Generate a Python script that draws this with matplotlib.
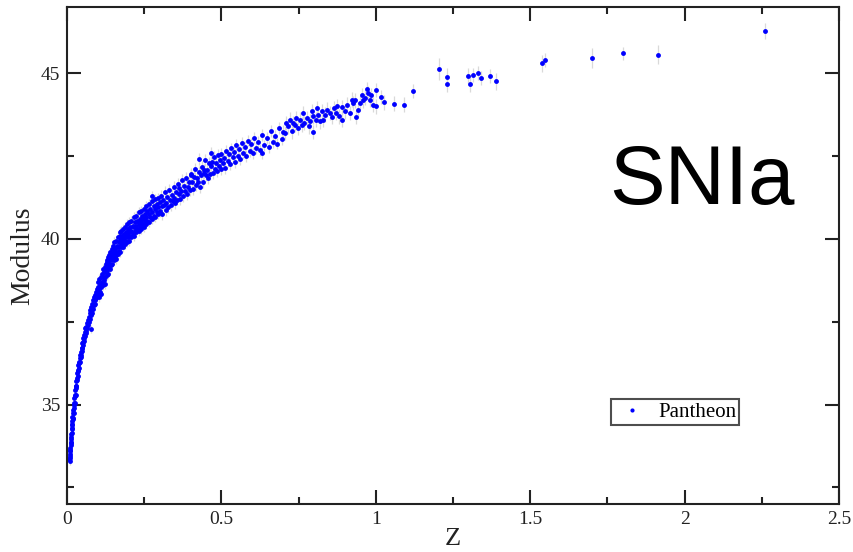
import matplotlib
matplotlib.use("Agg")
import matplotlib.pyplot as plt
from matplotlib.ticker import MultipleLocator
from matplotlib.lines import Line2D

# Pantheon SN Ia distance moduli, grouped by redshift range
z_near = [0.0075, 0.0080, 0.0085, 0.0090, 0.0095, 0.0100, 0.0105, 0.0110, 0.0115, 0.0120,
          0.0125, 0.0130, 0.0135, 0.0140, 0.0145, 0.0150, 0.0155, 0.0160, 0.0165, 0.0170,
          0.0175, 0.0180, 0.0190, 0.0195, 0.0200, 0.0210, 0.0215, 0.0220, 0.0230, 0.0240,
          0.0245, 0.0250, 0.0260, 0.0270, 0.0275, 0.0280, 0.0290, 0.0300, 0.0305, 0.0310,
          0.0320, 0.0330, 0.0340, 0.0350, 0.0360, 0.0370, 0.0380, 0.0390, 0.0400, 0.0410,
          0.0420, 0.0430, 0.0440, 0.0450, 0.0460, 0.0470, 0.0480, 0.0490, 0.0500, 0.0510,
          0.0520, 0.0530, 0.0540, 0.0550, 0.0560, 0.0570, 0.0580, 0.0590, 0.0600, 0.0615,
          0.0630, 0.0645, 0.0660, 0.0675, 0.0690, 0.0700, 0.0715, 0.0730, 0.0740, 0.0745,
          0.0760, 0.0770, 0.0775, 0.0790, 0.0800, 0.0815, 0.0830, 0.0845, 0.0860, 0.0875,
          0.0890, 0.0905, 0.0920, 0.0935, 0.0950, 0.0965, 0.0980, 0.0995]
mu_near = [33.35, 33.30, 33.45, 33.40, 33.60, 33.50, 33.70, 33.62, 33.85, 33.78,
           33.95, 33.88, 34.10, 34.02, 34.25, 34.15, 34.38, 34.30, 34.50, 34.42,
           34.62, 34.55, 34.75, 34.60, 34.85, 34.90, 34.75, 35.05, 35.00, 35.20,
           35.05, 35.30, 35.25, 35.45, 35.30, 35.55, 35.50, 35.70, 35.55, 35.80,
           35.75, 35.95, 35.85, 36.05, 36.00, 36.20, 36.10, 36.30, 36.25, 36.40,
           36.30, 36.50, 36.45, 36.60, 36.50, 36.70, 36.62, 36.85, 36.72, 36.90,
           36.80, 37.00, 36.92, 37.10, 37.00, 37.20, 37.08, 37.30, 37.15, 37.35,
           37.22, 37.45, 37.30, 37.55, 37.40, 37.65, 37.50, 37.75, 37.86, 37.58,
           37.85, 37.28, 37.70, 37.95, 37.75, 38.05, 37.90, 38.15, 38.00, 38.25,
           38.05, 38.30, 38.15, 38.40, 38.22, 38.50, 38.30, 38.55]

z_mid = [0.101, 0.101, 0.104, 0.104, 0.104, 0.107, 0.107, 0.110, 0.110, 0.110,
         0.113, 0.113, 0.116, 0.116, 0.116, 0.119, 0.119, 0.122, 0.122, 0.122,
         0.125, 0.125, 0.128, 0.128, 0.128, 0.131, 0.131, 0.134, 0.134, 0.134,
         0.137, 0.137, 0.140, 0.140, 0.140, 0.143, 0.143, 0.146, 0.146, 0.146,
         0.149, 0.149, 0.152, 0.152, 0.152, 0.155, 0.155, 0.158, 0.158, 0.158,
         0.161, 0.161, 0.164, 0.164, 0.164, 0.167, 0.167, 0.170, 0.170, 0.170,
         0.173, 0.173, 0.176, 0.176, 0.176, 0.179, 0.179, 0.182, 0.182, 0.182,
         0.185, 0.185, 0.188, 0.188, 0.188, 0.191, 0.191, 0.194, 0.194, 0.194,
         0.197, 0.197, 0.200, 0.200, 0.200, 0.204, 0.204, 0.208, 0.208, 0.208,
         0.212, 0.212, 0.216, 0.216, 0.216, 0.220, 0.220, 0.224, 0.224, 0.224,
         0.228, 0.228, 0.232, 0.232, 0.232, 0.236, 0.236, 0.240, 0.240, 0.240,
         0.244, 0.244, 0.248, 0.248, 0.248, 0.252, 0.252, 0.256, 0.256, 0.256,
         0.260, 0.260, 0.265, 0.265, 0.265, 0.270, 0.270, 0.274, 0.275, 0.275,
         0.275, 0.280, 0.280, 0.285, 0.285, 0.285, 0.290, 0.290, 0.295, 0.295,
         0.295]
mu_mid = [38.70, 38.35, 38.50, 38.25, 38.80, 38.62, 38.40, 38.85, 38.55, 38.35,
          38.70, 38.95, 38.60, 38.85, 39.10, 38.75, 39.00, 39.15, 38.85, 38.65,
          39.00, 39.25, 38.90, 39.15, 39.35, 39.05, 39.30, 39.45, 39.15, 38.95,
          39.25, 39.50, 39.10, 39.35, 39.60, 39.45, 39.20, 39.70, 39.40, 39.25,
          39.55, 39.80, 39.35, 39.60, 39.90, 39.70, 39.45, 39.95, 39.60, 39.40,
          39.80, 39.55, 40.05, 39.75, 39.55, 39.90, 39.65, 40.10, 39.80, 39.60,
          39.95, 40.20, 39.75, 40.00, 40.25, 40.10, 39.85, 40.30, 40.00, 39.75,
          40.15, 39.90, 40.35, 40.05, 39.85, 40.20, 39.95, 40.45, 40.15, 39.90,
          40.30, 40.05, 40.50, 40.20, 39.95, 40.35, 40.10, 40.55, 40.25, 40.05,
          40.40, 40.15, 40.65, 40.35, 40.10, 40.50, 40.25, 40.70, 40.40, 40.20,
          40.55, 40.30, 40.80, 40.45, 40.25, 40.60, 40.35, 40.85, 40.55, 40.30,
          40.70, 40.45, 40.90, 40.60, 40.35, 40.75, 40.50, 41.00, 40.65, 40.45,
          40.85, 40.55, 41.05, 40.75, 40.50, 40.90, 40.65, 41.30, 41.15, 40.80,
          40.60, 41.00, 40.70, 41.20, 40.90, 40.65, 41.05, 40.80, 41.25, 40.95,
          40.75]

z_inter = [0.301, 0.302, 0.305, 0.307, 0.309, 0.312, 0.314, 0.317, 0.319, 0.322,
           0.325, 0.327, 0.331, 0.333, 0.336, 0.339, 0.342, 0.345, 0.347, 0.350,
           0.353, 0.356, 0.359, 0.361, 0.364, 0.367, 0.370, 0.373, 0.376, 0.379,
           0.382, 0.385, 0.388, 0.391, 0.394, 0.397, 0.400, 0.403, 0.406, 0.409,
           0.412, 0.415, 0.418, 0.421, 0.424, 0.427, 0.428, 0.430, 0.433, 0.436,
           0.439, 0.442, 0.445, 0.448, 0.451, 0.454, 0.457, 0.460, 0.463, 0.466,
           0.467, 0.470, 0.473, 0.476, 0.479, 0.482, 0.485, 0.488, 0.491, 0.494,
           0.497, 0.500, 0.504, 0.508, 0.512, 0.516, 0.520, 0.524, 0.528, 0.532,
           0.536, 0.540, 0.544, 0.548, 0.552, 0.556, 0.561, 0.566, 0.571, 0.576,
           0.581, 0.586, 0.591, 0.596, 0.601, 0.607, 0.613, 0.619, 0.625, 0.630,
           0.632, 0.639, 0.646, 0.653, 0.660, 0.667, 0.674, 0.681, 0.688, 0.695]
mu_inter = [41.12, 40.84, 41.30, 40.98, 40.76, 41.18, 41.02, 41.42, 40.88, 41.08,
            41.27, 40.95, 41.48, 41.16, 41.02, 41.33, 41.13, 41.58, 41.24, 41.08,
            41.42, 41.19, 41.66, 41.36, 41.55, 41.21, 41.44, 41.78, 41.30, 41.60,
            41.44, 41.83, 41.36, 41.56, 41.73, 41.48, 41.92, 41.97, 41.72, 41.50,
            41.86, 42.10, 41.63, 41.83, 41.73, 42.03, 42.42, 41.57, 41.93, 42.16,
            41.72, 42.07, 41.98, 42.39, 41.92, 42.09, 41.85, 42.30, 41.95, 42.60,
            42.20, 42.33, 41.98, 42.46, 42.12, 42.30, 42.05, 42.52, 42.20, 42.38,
            42.10, 42.57, 42.28, 42.44, 42.15, 42.65, 42.36, 42.55, 42.26, 42.73,
            42.47, 42.62, 42.33, 42.84, 42.50, 42.70, 42.42, 42.90, 42.58, 42.78,
            42.49, 42.97, 42.66, 42.86, 42.60, 43.05, 42.74, 42.94, 42.68, 42.58,
            43.13, 42.82, 43.04, 42.78, 43.25, 42.92, 43.12, 42.88, 43.35, 43.02]

z_far = [0.700, 0.705, 0.710, 0.716, 0.722, 0.727, 0.733, 0.738, 0.743, 0.748,
         0.754, 0.760, 0.765, 0.768, 0.776, 0.782, 0.786, 0.792, 0.797, 0.797,
         0.805, 0.808, 0.813, 0.819, 0.825, 0.830, 0.835, 0.842, 0.851, 0.857,
         0.863, 0.871, 0.873, 0.880, 0.889, 0.892, 0.900, 0.908, 0.916, 0.922,
         0.927, 0.932, 0.937, 0.943, 0.948, 0.955, 0.959, 0.965, 0.970, 0.975,
         0.981, 0.983, 0.991, 1.000, 1.002, 1.017, 1.028, 1.059, 1.092, 1.120]
mu_far = [43.22, 43.20, 43.50, 43.40, 43.60, 43.25, 43.50, 43.45, 43.65, 43.35,
          43.60, 43.45, 43.80, 43.50, 43.65, 43.40, 43.55, 43.85, 43.70, 43.23,
          43.60, 43.95, 43.75, 43.55, 43.85, 43.60, 43.75, 43.90, 43.80, 43.68,
          43.95, 43.80, 44.00, 43.70, 43.60, 43.98, 43.85, 44.05, 43.80, 44.20,
          44.10, 44.18, 43.68, 43.90, 44.10, 44.35, 44.18, 44.25, 44.53, 44.40,
          44.20, 44.33, 44.05, 44.00, 44.49, 44.29, 44.12, 44.08, 44.05, 44.46]

z_hst = [1.206, 1.230, 1.230, 1.299, 1.304, 1.315, 1.330, 1.340, 1.369, 1.389,
         1.538, 1.549, 1.700, 1.800, 1.914, 2.259]
mu_hst = [45.14, 44.90, 44.69, 44.93, 44.67, 44.95, 45.01, 44.86, 44.92, 44.76,
          45.30, 45.40, 45.47, 45.60, 45.56, 46.28]
err_hst = [0.33, 0.25, 0.25, 0.22, 0.25, 0.22, 0.22, 0.22, 0.20, 0.25,
           0.25, 0.22, 0.30, 0.20, 0.28, 0.25]

# typical uncertainty of the lower-redshift groups
err_near, err_mid, err_inter, err_far = 0.12, 0.15, 0.18, 0.22

fig = plt.figure(figsize=(8.54, 5.52), dpi=100)
ax = fig.add_axes([0.0785, 0.087, 0.904, 0.9003])

groups = [(z_near, mu_near, err_near), (z_mid, mu_mid, err_mid),
          (z_inter, mu_inter, err_inter), (z_far, mu_far, err_far),
          (z_hst, mu_hst, err_hst)]
for zs, mus, err in groups:
    ax.errorbar(zs, mus, yerr=err, fmt="none", ecolor="#d9d9d9",
                elinewidth=0.9, capsize=0, zorder=1)
for zs, mus, _ in groups:
    ax.plot(zs, mus, "o", color="#0000ff", ms=3.5, mew=0, zorder=2)

ax.set_xlim(0, 2.5)
ax.set_ylim(32, 47)
ax.xaxis.set_major_locator(MultipleLocator(0.5))
ax.xaxis.set_minor_locator(MultipleLocator(0.25))
ax.yaxis.set_major_locator(MultipleLocator(5))
ax.yaxis.set_minor_locator(MultipleLocator(2.5))
ax.set_xticks([0, 0.5, 1, 1.5, 2, 2.5])
ax.set_xticklabels(["0", "0.5", "1", "1.5", "2", "2.5"])

serif = "Liberation Serif"
ax.tick_params(which="both", direction="in", top=True, right=True,
               width=1.5, colors="#222222")
ax.tick_params(which="major", length=10, labelsize=14, pad=5)
ax.tick_params(which="minor", length=5)
for lab in ax.get_xticklabels() + ax.get_yticklabels():
    lab.set_fontfamily(serif)
    lab.set_color("#222222")
for sp in ax.spines.values():
    sp.set_linewidth(1.5)
    sp.set_color("#222222")

ax.set_xlabel("Z", fontfamily=serif, fontsize=19, labelpad=0, color="#222222")
ax.set_ylabel("Modulus", fontfamily=serif, fontsize=20, labelpad=4, color="#222222")

ax.text(0.702, 0.604, "SNIa", transform=ax.transAxes, fontfamily="Liberation Sans",
        fontsize=60, ha="left", va="baseline", color="black")

handle = Line2D([], [], ls="none", marker="o", color="#0000ff", ms=3.0, mew=0)
leg = ax.legend([handle], ["Pantheon"], loc="center", bbox_to_anchor=(0.7876, 0.185),
                prop={"family": serif, "size": 15}, frameon=True, fancybox=False,
                borderpad=0.15, handlelength=1.7, handletextpad=0.4, numpoints=1)
leg.get_frame().set_edgecolor("#222222")
leg.get_frame().set_linewidth(1.5)

fig.savefig("out.png", dpi=100)
